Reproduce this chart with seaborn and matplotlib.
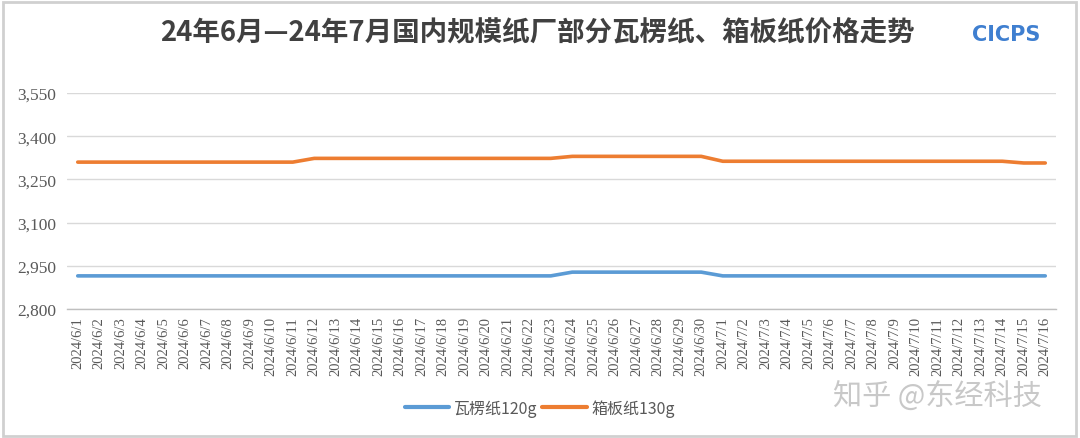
import numpy as np
import pandas as pd
import matplotlib
matplotlib.use("Agg")
import matplotlib.pyplot as plt
import seaborn as sns
from matplotlib.patches import Rectangle
from matplotlib.lines import Line2D

# ---- data ----
dates = [f"2024/6/{d}" for d in range(1, 31)] + [f"2024/7/{d}" for d in range(1, 17)]
corrugated_120g = [2915] * 23 + [2928] * 7 + [2915] * 16      # 瓦楞纸120g
containerboard_130g = [3310] * 11 + [3323] * 12 + [3330] * 7 + [3313] * 14 + [3307] * 2  # 箱板纸130g
series_names = ["瓦楞纸120g", "箱板纸130g"]
colors = ["#5B9BD5", "#ED7D31"]
y_ticks = [2800, 2950, 3100, 3250, 3400, 3550]
title = "24年6月—24年7月国内规模纸厂部分瓦楞纸、箱板纸价格走势"

df = pd.DataFrame({
    "idx": list(range(len(dates))) * 2,
    "date": dates * 2,
    "price": corrugated_120g + containerboard_130g,
    "series": [series_names[0]] * len(dates) + [series_names[1]] * len(dates),
})

sns.set_theme(style="white")
plt.rcParams["font.family"] = ["Noto Sans CJK SC", "DejaVu Sans"]

fig = plt.figure(figsize=(10.8, 4.39), dpi=100)
ax = fig.add_axes([67 / 1080, 1 - 310 / 439, (1056 - 67) / 1080, (310 - 94) / 439])

sns.lineplot(data=df, x="idx", y="price", hue="series", palette=colors,
             hue_order=series_names, linewidth=2.6, ax=ax, legend=False,
             estimator=None, sort=False)

n = len(dates)
ax.set_xlim(-0.5, n - 0.5)
ax.set_ylim(y_ticks[0], y_ticks[-1])
ax.set_yticks(y_ticks)
ax.set_yticklabels([f"{v:,}" for v in y_ticks], family="Liberation Serif",
                   fontsize=12.5, color="#595959")
ax.set_xticks(np.arange(n))
ax.set_xticklabels(dates, rotation=90, family="Liberation Serif",
                   fontsize=10.5, color="#595959")
ax.set_xticks(np.arange(n + 1) - 0.5, minor=True)
ax.tick_params(axis="x", which="major", length=0, pad=5)
ax.tick_params(axis="x", which="minor", length=4, color="#bfbfbf", width=1, direction="out")
ax.tick_params(axis="y", length=0, pad=8)
ax.set_xlabel("")
ax.set_ylabel("")

ax.grid(axis="y", color="#d9d9d9", linewidth=1)
ax.set_axisbelow(True)
for s in ["left", "right", "top"]:
    ax.spines[s].set_visible(False)
ax.spines["bottom"].set_color("#bfbfbf")
ax.spines["bottom"].set_linewidth(1)

# title
fig.text(537 / 1080, 1 - 33 / 439, title, ha="center", va="center",
         fontsize=19.8, fontweight="bold", color="#404040")
# logo
fig.text(1006 / 1080, 1 - 35 / 439, "CICPS", ha="center", va="center",
         fontsize=15, fontweight="bold", color="#3F7FD0", family="DejaVu Sans")

# legend
handles = [Line2D([], [], color=c, linewidth=3) for c in colors]
fig.legend(handles, series_names, loc="center", bbox_to_anchor=(540 / 1080, 1 - 409 / 439),
           ncol=2, frameon=False, fontsize=11.5, handlelength=2.8, columnspacing=0.3,
           handletextpad=0.3, labelcolor="#595959")

# watermark
fig.text(937 / 1080, 1 - 397 / 439, "知乎 @东经科技", ha="center", va="center",
         fontsize=21, color="#c8c8c8")

# border
fig.patches.append(Rectangle((0.003, 0.004), 0.993, 0.99, transform=fig.transFigure,
                             fill=False, edgecolor="#d0d0d0", linewidth=2))

fig.savefig("out.png", dpi=100)
